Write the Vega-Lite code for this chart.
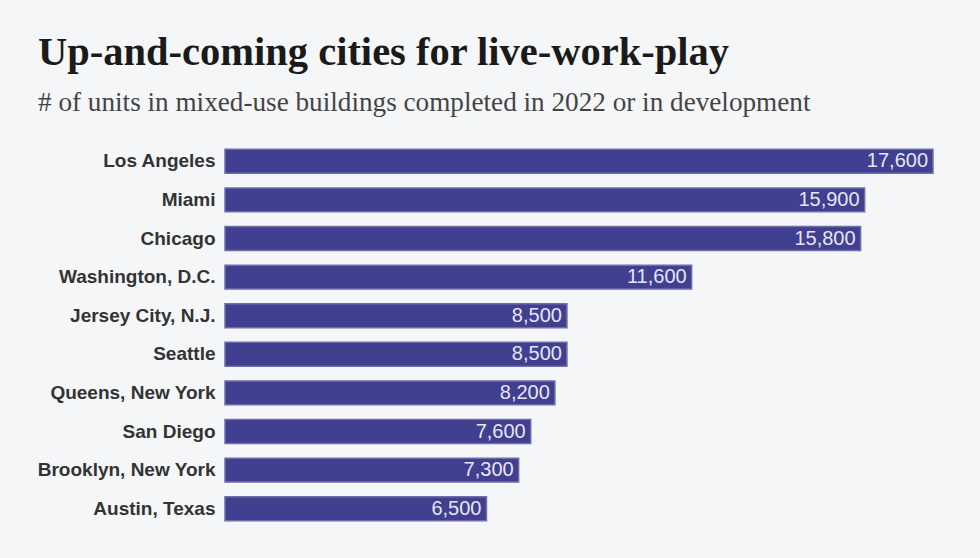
{
  "$schema": "https://vega.github.io/schema/vega-lite/v6.json",
  "autosize": "none",
  "width": 708,
  "height": 386,
  "padding": {"left": 225, "top": 142, "right": 47, "bottom": 30},
  "background": "#f5f6f8",
  "title": {
    "text": "Up-and-coming cities for live-work-play",
    "subtitle": "# of units in mixed-use buildings completed in 2022 or in development",
    "anchor": "start",
    "frame": "group",
    "dx": -187,
    "offset": 26,
    "font": "Liberation Serif",
    "fontSize": 40.5,
    "fontWeight": "bold",
    "color": "#1a1a1a",
    "subtitleFont": "Liberation Serif",
    "subtitleFontSize": 27.2,
    "subtitleColor": "#444444",
    "subtitlePadding": 16
  },
  "data": {
    "values": [
      {"city": "Los Angeles", "units": 17600},
      {"city": "Miami", "units": 15900},
      {"city": "Chicago", "units": 15800},
      {"city": "Washington, D.C.", "units": 11600},
      {"city": "Jersey City, N.J.", "units": 8500},
      {"city": "Seattle", "units": 8500},
      {"city": "Queens, New York", "units": 8200},
      {"city": "San Diego", "units": 7600},
      {"city": "Brooklyn, New York", "units": 7300},
      {"city": "Austin, Texas", "units": 6500}
    ]
  },
  "encoding": {
    "y": {
      "field": "city",
      "type": "nominal",
      "sort": null,
      "scale": {"paddingInner": 0.38, "paddingOuter": 0.19},
      "axis": {
        "title": null,
        "domain": false,
        "ticks": false,
        "labelPadding": 10,
        "labelFont": "Liberation Sans",
        "labelFontSize": 19,
        "labelFontWeight": "bold",
        "labelColor": "#333333"
      }
    },
    "x": {
      "field": "units",
      "type": "quantitative",
      "scale": {"domain": [0, 17600], "nice": false},
      "axis": null
    }
  },
  "layer": [
    {"mark": {"type": "bar", "color": "#403f90", "stroke": "#6f6eab", "strokeWidth": 1.5}},
    {
      "mark": {"type": "text", "align": "right", "dx": -5, "color": "#e6e6f2", "font": "Liberation Sans", "fontSize": 20},
      "encoding": {"text": {"field": "units", "type": "quantitative", "format": ","}}
    }
  ],
  "config": {"view": {"stroke": null}}
}
